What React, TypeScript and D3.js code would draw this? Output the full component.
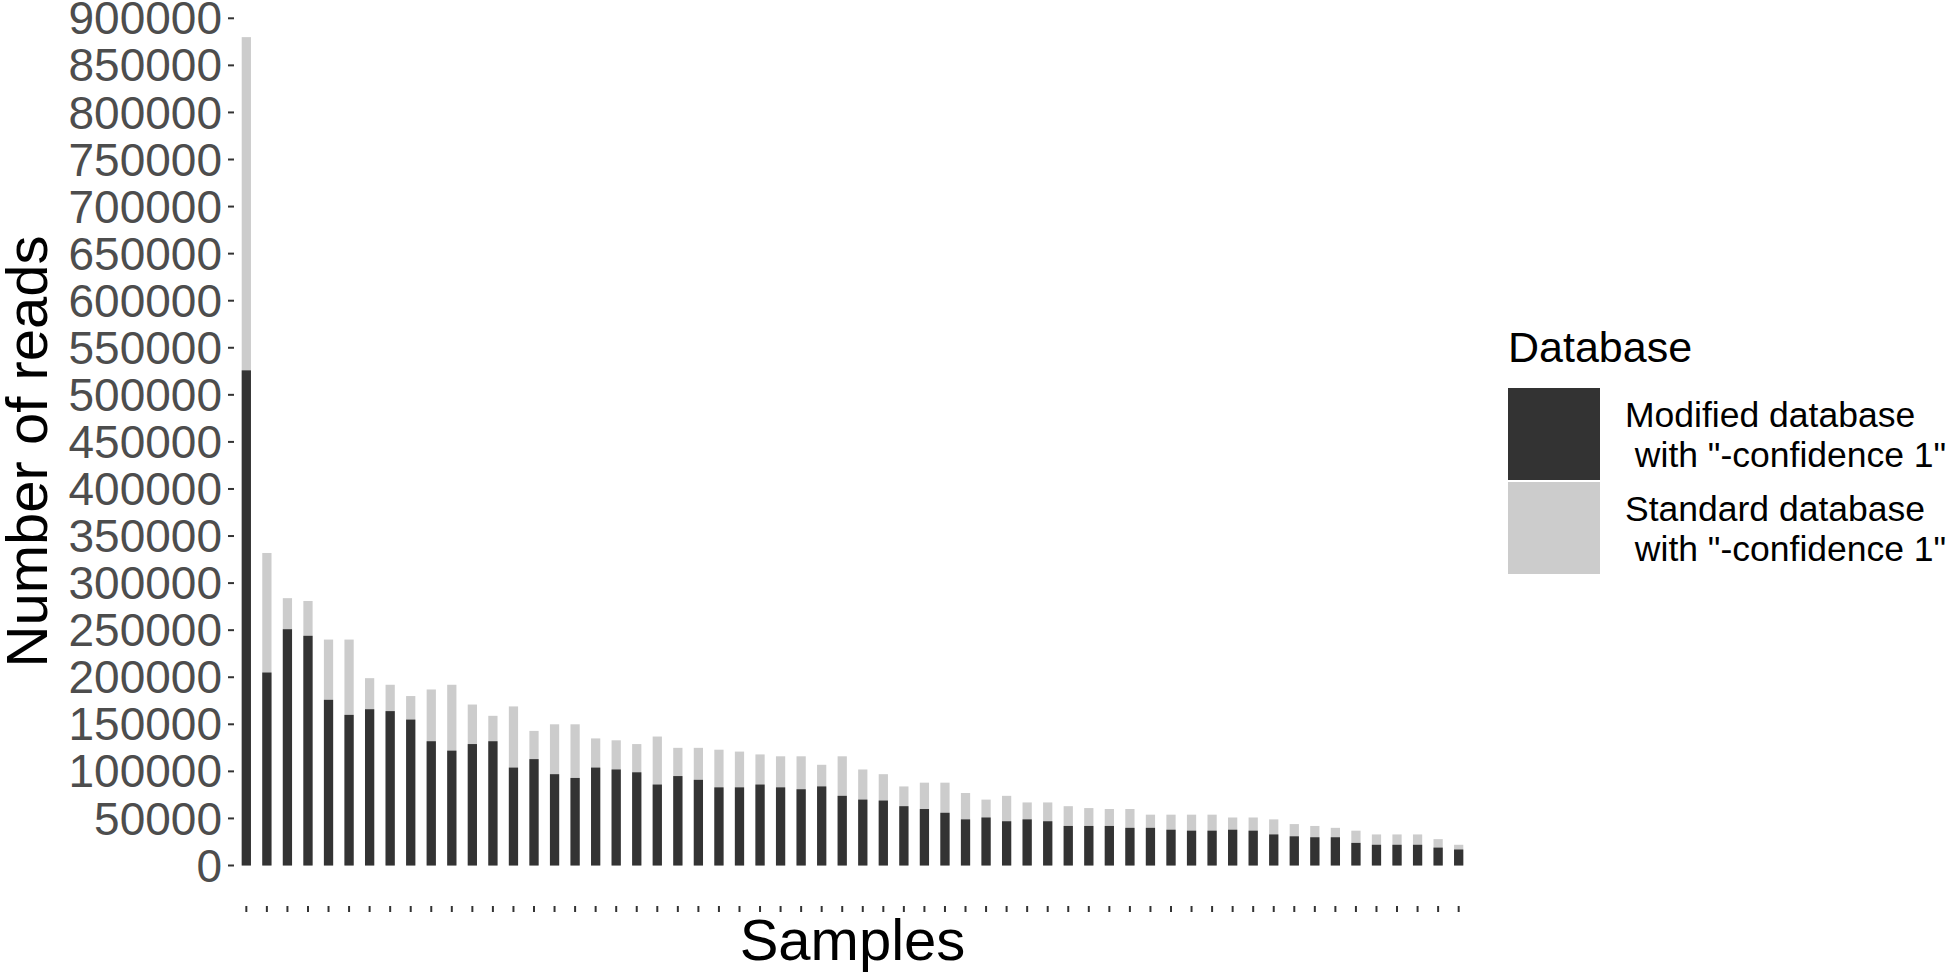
import React from 'react'
import * as d3 from 'd3'

// reads per sample (in thousands)
const standardReads = [
  880, 332, 284, 281, 240, 240, 199, 192, 180, 187,
  192, 171, 159, 169, 143, 150, 150, 135, 133, 129,
  137, 125, 125, 123, 121, 118, 116, 116, 107, 116,
  102, 97, 84, 88, 88, 77, 70, 74, 67, 67,
  63, 61, 60, 60, 54, 54, 54, 54, 51, 51,
  49, 44, 42, 40, 37, 33, 33, 33, 28, 22,
]
const modifiedReads = [
  526, 205, 251, 244, 176, 160, 166, 164, 155, 132,
  122, 129, 132, 104, 113, 97, 93, 104, 102, 99,
  86, 95, 91, 83, 83, 86, 83, 81, 84, 74,
  70, 69, 63, 60, 56, 49, 51, 47, 49, 47,
  42, 42, 42, 40, 40, 38, 37, 37, 38, 37,
  33, 31, 30, 30, 24, 22, 22, 22, 19, 17,
]
const samples = standardReads.map((_, i) => `S${i + 1}`)
const yTicks = d3.range(0, 900001, 50000)

const legendItems = [
  {lines: ['Modified database', ' with "-confidence 1"'], fill: '#333333'},
  {lines: ['Standard database', ' with "-confidence 1"'], fill: '#cccccc'},
]

const font = '"Liberation Sans", Arial, sans-serif'

export default function App() {
  const width = 1950, height = 972
  const panel = {left: 234, right: 1471, top: -4, bottom: 907}

  const x = d3.scaleBand()
    .domain(samples)
    .range([panel.left, panel.right])
    .paddingInner(0.55)
    .paddingOuter(0.375)
  const y = d3.scaleLinear()
    .domain([0, 900000])
    .range([865.5, 18.3])

  return (
    <svg width={width} height={height}
      style={{position: 'absolute', left: 0, top: 0, background: '#fff'}}
      fontFamily={font}>
      <rect width={width} height={height} fill="#fff" />

      {/* standard database bars behind, modified on top */}
      {samples.map((s, i) => (
        <rect key={'std' + s} x={x(s)} width={x.bandwidth()}
          y={y(standardReads[i] * 1000)}
          height={y(0) - y(standardReads[i] * 1000)}
          fill="#cccccc" />
      ))}
      {samples.map((s, i) => (
        <rect key={'mod' + s} x={x(s)} width={x.bandwidth()}
          y={y(modifiedReads[i] * 1000)}
          height={y(0) - y(modifiedReads[i] * 1000)}
          fill="#333333" />
      ))}

      {/* y axis */}
      {yTicks.map(t => (
        <g key={t}>
          <line x1={panel.left - 6} x2={panel.left} y1={y(t)} y2={y(t)}
            stroke="#333333" strokeWidth={2} />
          <text x={panel.left - 12} y={y(t)} dy="0.35em" textAnchor="end"
            fontSize={46} fill="#4d4d4d">{t}</text>
        </g>
      ))}

      {/* x axis ticks, no labels */}
      {samples.map(s => (
        <line key={'xt' + s}
          x1={x(s) + x.bandwidth() / 2} x2={x(s) + x.bandwidth() / 2}
          y1={panel.bottom - 1} y2={panel.bottom + 5}
          stroke="#333333" strokeWidth={2} />
      ))}

      <text transform={`translate(47,${(panel.top + panel.bottom) / 2}) rotate(-90)`}
        textAnchor="middle" fontSize={58} fill="#000">Number of reads</text>
      <text x={(panel.left + panel.right) / 2} y={960} textAnchor="middle"
        fontSize={58} fill="#000">Samples</text>

      {/* legend */}
      <text x={1508} y={362} fontSize={43} fill="#000">Database</text>
      {legendItems.map((d, i) => (
        <g key={d.fill} transform={`translate(1508,${388 + i * 94})`}>
          <rect width={92} height={92} fill={d.fill} />
          {d.lines.map((l, j) => (
            <text key={j} x={117} y={39 + j * 40} fontSize={35.5} fill="#000"
              style={{whiteSpace: 'pre'}}>{l}</text>
          ))}
        </g>
      ))}
    </svg>
  )
}
